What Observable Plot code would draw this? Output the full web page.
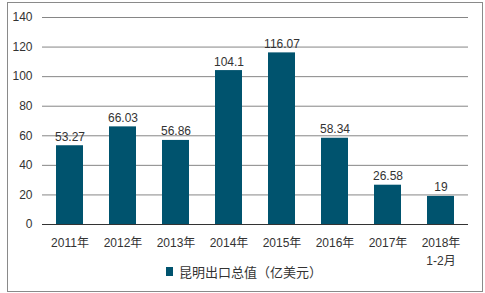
<!DOCTYPE html>
<html><head><meta charset="utf-8">
<script src="https://cdn.jsdelivr.net/npm/d3@7"></script>
<script src="https://cdn.jsdelivr.net/npm/@observablehq/plot@0.6"></script>
<style>
body{margin:0;background:#fff;font-family:"Liberation Sans","Noto Sans CJK SC",sans-serif;}
#wrap{position:relative;width:485px;height:293px;overflow:hidden;}
#frame{position:absolute;left:7px;top:2px;width:474px;height:288px;border:1px solid #8a8a8a;box-sizing:content-box;pointer-events:none;}
#chart{position:absolute;left:0;top:0;}
#legend{position:absolute;left:166px;top:262px;font-size:13px;color:#333;display:flex;align-items:center;font-family:"Noto Sans CJK SC",sans-serif;}
#legend span.sw{display:inline-block;width:7px;height:9px;background:#00536e;margin-right:6px;}
</style></head>
<body>
<div id="wrap"><div id="chart"></div><div id="legend"><span class="sw"></span><span>昆明出口总值（亿美元）</span></div><div id="frame"></div></div>
<script>
const categories = ["2011年","2012年","2013年","2014年","2015年","2016年","2017年","2018年\n1-2月"];
const values = [53.27, 66.03, 56.86, 104.1, 116.07, 58.34, 26.58, 19];
const labels = ["53.27","66.03","56.86","104.1","116.07","58.34","26.58","19"];
const yTicks = [0,20,40,60,80,100,120,140];
const data = categories.map((c,i)=>({cat:c, v:values[i], label:labels[i]}));
const plot = Plot.plot({
  width: 485, height: 293,
  marginLeft: 42, marginRight: 17, marginTop: 17, marginBottom: 69,
  style: {fontFamily: '"Liberation Sans","Noto Sans CJK SC",sans-serif', fontSize: "12px", color: "#333", background: "transparent"},
  x: {domain: categories, paddingInner: 0.5, paddingOuter: 0.25, label: null},
  y: {domain: [0,140], ticks: yTicks, label: null},
  marks: [
    Plot.gridY(yTicks.filter(d=>d>0), {stroke: "#868686", strokeOpacity: 1, strokeWidth: 1}),
    Plot.barY(data, {x: "cat", y: "v", fill: "#00536e"}),
    Plot.ruleY([0], {stroke: "#333", strokeWidth: 1}),
    Plot.text(data, {x: "cat", y: "v", text: "label", lineAnchor: "bottom", dy: -5, fill: "#333", fontSize: 12}),
    Plot.axisY({ticks: yTicks, tickSize: 0, tickPadding: 10, fontSize: 12, fill: "#333"}),
    Plot.axisX({tickSize: 0, tickPadding: 10, fontSize: 12, fill: "#333", lineHeight: 1.5})
  ]
});
document.getElementById("chart").appendChild(plot);
</script>
</body></html>
